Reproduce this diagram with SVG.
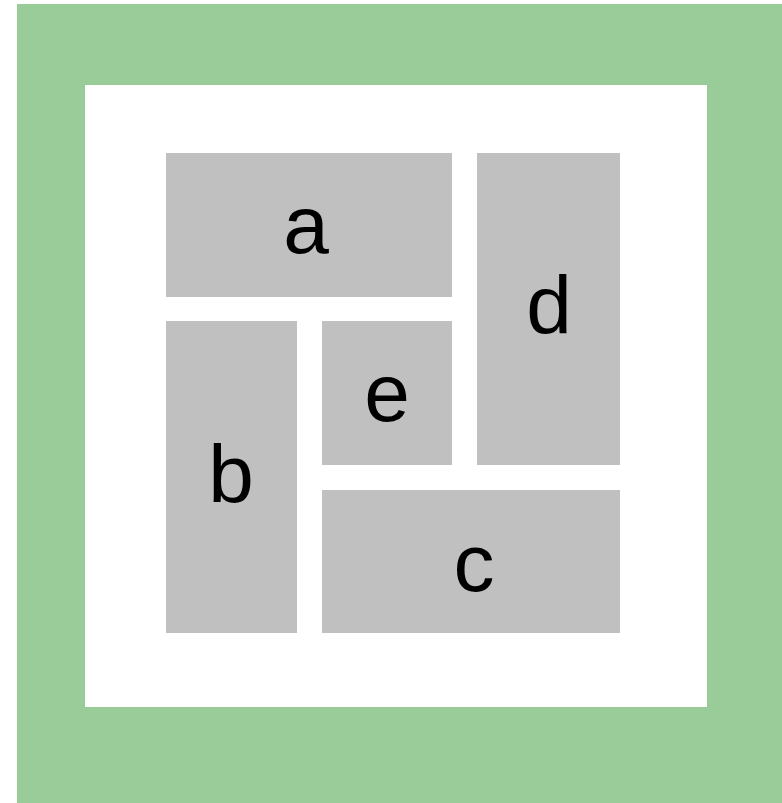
<svg xmlns="http://www.w3.org/2000/svg" width="782" height="803" viewBox="0 0 782 803">
<style>
.box{fill:#c0c0c0}
.lbl{font-family:"Liberation Sans",Arial,sans-serif;font-size:82px;fill:#000;text-anchor:middle}
</style>
<rect x="0" y="0" width="782" height="803" fill="#ffffff"/>
<rect x="17" y="4" width="765" height="799" fill="#99cc99"/>
<rect x="85" y="85" width="622" height="622" fill="#ffffff"/>
<g id="connectors"></g>
<g id="a"><rect class="box" x="166" y="153" width="286" height="144"/><text class="lbl" x="306" y="253">a</text></g>
<g id="d"><rect class="box" x="477" y="153" width="143" height="312"/><text class="lbl" x="549" y="333">d</text></g>
<g id="b"><rect class="box" x="166" y="321" width="131" height="312"/><text class="lbl" x="231" y="502">b</text></g>
<g id="e"><rect class="box" x="322" y="321" width="130" height="144"/><text class="lbl" x="387" y="421">e</text></g>
<g id="c"><rect class="box" x="322" y="490" width="298" height="143"/><text class="lbl" x="474" y="591">c</text></g>
</svg>
